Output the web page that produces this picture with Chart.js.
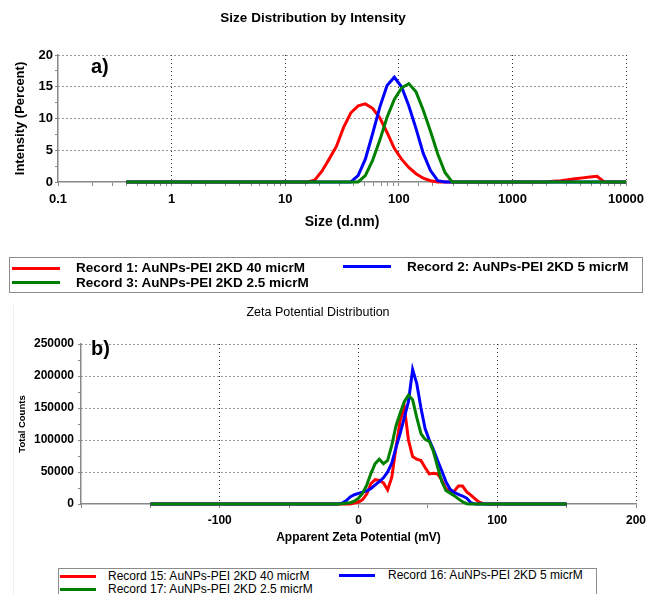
<!DOCTYPE html>
<html>
<head>
<meta charset="utf-8">
<script src="https://cdn.jsdelivr.net/npm/chart.js@4.4.0/dist/chart.umd.min.js"></script>
<style>
body{margin:0;background:#fff;font-family:'Liberation Sans',Arial,sans-serif;color:#000;}
#page{position:relative;width:647px;height:594px;overflow:hidden;background:#fff;}
canvas{position:absolute;left:0;}
.tag{position:absolute;font-weight:bold;font-size:20px;line-height:24px;}
.box{position:absolute;border:1px solid #8c8c8c;box-sizing:border-box;}
.txt{position:absolute;white-space:nowrap;}
.sw{position:absolute;height:3px;}
</style>
</head>
<body>
<div id="page">
  <div style="position:absolute;left:13px;top:305px;width:1px;height:289px;background:#eee"></div>
  <canvas id="sizeChart" width="665" height="240" style="top:0"></canvas>
  <canvas id="zetaChart" width="663" height="258" style="top:296px"></canvas>
  <div class="tag" style="left:91px;top:54px">a)</div>
  <div class="tag" style="left:91px;top:336px">b)</div>

  <div class="box" style="left:9px;top:257px;width:634px;height:36px"></div>
  <div class="sw" style="left:12px;top:267px;width:48px;background:#ff0000"></div>
  <div class="txt" id="lg1" style="left:76px;top:260px;font:bold 13.5px 'Liberation Sans',Arial,sans-serif"></div>
  <div class="sw" style="left:343px;top:265px;width:48px;background:#0000ff"></div>
  <div class="txt" id="lg2" style="left:407px;top:259px;font:bold 13.5px 'Liberation Sans',Arial,sans-serif"></div>
  <div class="sw" style="left:12px;top:281px;width:48px;background:#008000"></div>
  <div class="txt" id="lg3" style="left:76px;top:275px;font:bold 13.5px 'Liberation Sans',Arial,sans-serif"></div>

  <div class="box" style="left:58px;top:568px;width:539px;height:40px"></div>
  <div class="sw" style="left:60px;top:575px;width:36px;background:#ff0000"></div>
  <div class="txt" id="lg4" style="left:108px;top:569px;font:12px 'Liberation Sans',Arial,sans-serif"></div>
  <div class="sw" style="left:339px;top:574px;width:36px;background:#0000ff"></div>
  <div class="txt" id="lg5" style="left:388px;top:568px;font:12px 'Liberation Sans',Arial,sans-serif"></div>
  <div class="sw" style="left:60px;top:588px;width:36px;background:#008000"></div>
  <div class="txt" id="lg6" style="left:108px;top:582px;font:12px 'Liberation Sans',Arial,sans-serif"></div>
</div>
<script>
// a) size distribution, Malvern size classes (d.nm)
var sizeBins = [0.4, 0.4632, 0.5365, 0.6213, 0.7195, 0.8332, 0.9649, 1.117, 1.294, 1.499,
  1.736, 2.010, 2.328, 2.696, 3.122, 3.615, 4.187, 4.849, 5.615, 6.503,
  7.531, 8.721, 10.10, 11.70, 13.54, 15.69, 18.17, 21.04, 24.36, 28.21,
  32.67, 37.84, 43.82, 50.75, 58.77, 68.06, 78.82, 91.28, 105.7, 122.4,
  141.8, 164.2, 190.1, 220.2, 255.0, 295.3, 342.0, 396.1, 458.7, 531.2,
  615.1, 712.4, 825.0, 955.4, 1106, 1281, 1484, 1718, 1990, 2305,
  2669, 3091, 3580, 4145, 4801, 5560, 6439, 7456, 8635, 10000];
var intensity40 = [0, 0, 0, 0, 0, 0, 0, 0, 0, 0,
  0, 0, 0, 0, 0, 0, 0, 0, 0, 0,
  0, 0, 0, 0, 0, 0, 0.3, 1.7, 3.6, 5.6,
  8.6, 10.9, 12.0, 12.3, 11.6, 10.1, 7.8, 5.3, 3.6, 2.3,
  1.3, 0.6, 0.2, 0, 0, 0, 0, 0, 0, 0,
  0, 0, 0, 0, 0, 0, 0, 0, 0, 0.1,
  0.2, 0.35, 0.5, 0.65, 0.8, 0.9, 0, 0, 0, 0];
var intensity5 = [0, 0, 0, 0, 0, 0, 0, 0, 0, 0,
  0, 0, 0, 0, 0, 0, 0, 0, 0, 0,
  0, 0, 0, 0, 0, 0, 0, 0, 0, 0,
  0, 0, 1.0, 3.6, 7.6, 11.8, 15.2, 16.5, 15.0, 12.0,
  8.4, 4.5, 1.8, 0.2, 0, 0, 0, 0, 0, 0,
  0, 0, 0, 0, 0, 0, 0, 0, 0, 0,
  0, 0, 0, 0, 0, 0, 0, 0, 0, 0];
var intensity25 = [0, 0, 0, 0, 0, 0, 0, 0, 0, 0,
  0, 0, 0, 0, 0, 0, 0, 0, 0, 0,
  0, 0, 0, 0, 0, 0, 0, 0, 0, 0,
  0, 0, 0, 1.0, 3.4, 6.6, 10.2, 13.0, 14.8, 15.5,
  14.2, 11.3, 8.0, 4.4, 1.5, 0, 0, 0, 0, 0,
  0, 0, 0, 0, 0, 0, 0, 0, 0, 0,
  0, 0, 0, 0, 0, 0, 0, 0, 0, 0];
var sizeTickLabels = [0.1, 1, 10, 100, 1000, 10000];
var intensityTickLabels = [0, 5, 10, 15, 20];

// b) zeta potential
var zetaMv = [-150, -15, -12, -9, -6, -3, 0, 3, 6, 9, 12, 15, 18, 21, 24, 27, 30, 33, 36, 39,
  42, 45, 48, 51, 54, 57, 60, 63, 66, 69, 72, 75, 78, 81, 84, 87, 90, 93, 150];
var counts40 = [0, 0, 0, 0, 0, 1500, 3000, 7000, 16000, 32000, 38000, 37000, 33000, 22000, 42000, 88000, 130000, 152000, 100000, 74000,
  70000, 68000, 57000, 47000, 48000, 47000, 37500, 24000, 19000, 20000, 28000, 28000, 19000, 14000, 8000, 3000, 500, 0, 0];
var counts5 = [0, 0, 1000, 5000, 11000, 14500, 16500, 18500, 20500, 24000, 30000, 35000, 41000, 50000, 64000, 88000, 110000, 135000, 160000, 210000,
  188000, 150000, 118000, 100000, 85000, 68000, 52000, 35000, 23000, 18000, 15000, 12500, 9000, 2000, 0, 0, 0, 0, 0];
var counts25 = [0, 0, 500, 1200, 2000, 4500, 9000, 17000, 30000, 48000, 63000, 70000, 63000, 68000, 92000, 122000, 142000, 160000, 170000, 163000,
  135000, 110000, 101000, 98000, 82000, 58000, 35000, 21000, 17000, 13000, 8000, 3500, 500, 0, 0, 0, 0, 0, 0];
var zetaTickLabels = [-100, 0, 100, 200];
var countTickLabels = [0, 50000, 100000, 150000, 200000, 250000];

var sizeNames = ['Record 1: AuNPs-PEI 2KD 40 micrM', 'Record 2: AuNPs-PEI 2KD 5 micrM', 'Record 3: AuNPs-PEI 2KD 2.5 micrM'];
var zetaNames = ['Record 15: AuNPs-PEI 2KD 40 micrM', 'Record 16: AuNPs-PEI 2KD 5 micrM', 'Record 17: AuNPs-PEI 2KD 2.5 micrM'];
var colors = ['#ff0000', '#0000ff', '#008000'];

Chart.defaults.font.family = "'Liberation Sans', Arial, sans-serif";
Chart.defaults.color = '#000';

function points(xs, ys){
    return xs.map(function(x, i){ return {x: x, y: ys[i]}; });
}

function isMajor(list, v){
    for (var i = 0; i < list.length; i++) {
        if (Math.abs(list[i] - v) <= Math.abs(list[i]) * 1e-9) return true;
    }
    return false;
}

function datasets(xs, series, names){
    return series.map(function(ys, i){
        return {
            label: names[i],
            data: points(xs, ys),
            borderColor: colors[i],
            borderWidth: 3,
            pointRadius: 0,
            tension: 0,
            clip: 4,
            order: 3 - i
        };
    });
}

function axis(o){
    return {
        type: o.type,
        min: o.min,
        max: o.max,
        afterFit: o.fit,
        ticks: {
            stepSize: o.step,
            autoSkip: false,
            maxRotation: 0,
            padding: o.pad,
            font: {size: o.fontSize, weight: 'bold'},
            callback: function(v){ return isMajor(o.labels, v) && v !== o.hide ? String(v) : ''; }
        },
        grid: {
            color: function(ctx){ return ctx.tick && isMajor(o.labels, ctx.tick.value) && ctx.tick.value !== o.min ? '#333' : 'rgba(0,0,0,0)'; },
            tickColor: '#888',
            tickLength: o.tickLen,
            lineWidth: 1
        },
        border: {color: '#888', width: 1.5, dash: [1, 3]},
        title: {display: true, text: o.title, font: {size: o.titleSize, weight: 'bold'}, padding: o.titlePad}
    };
}

// canvases are a bit wider than the page so the centred titles land where the reference has them
new Chart(document.getElementById('sizeChart'), {
    type: 'line',
    data: {datasets: datasets(sizeBins, [intensity40, intensity5, intensity25], sizeNames)},
    options: {
        responsive: false, animation: false, devicePixelRatio: 1,
        layout: {padding: {left: 0, right: 39, top: 0, bottom: 0}},
        plugins: {
            legend: {display: false}, tooltip: {enabled: false},
            title: {display: true, text: 'Size Distribution by Intensity', font: {size: 13.5, weight: 'bold'}, padding: {top: 10, bottom: 28.8}}
        },
        scales: {
            x: axis({type: 'logarithmic', min: 0.1, max: 10000, labels: sizeTickLabels, pad: 6, fontSize: 13, tickLen: 4,
                fit: function(s){ s.height = 58; }, title: 'Size (d.nm)', titleSize: 14, titlePad: {top: 0, bottom: 9.6}}),
            y: axis({type: 'linear', min: 0, max: 20, step: 2.5, labels: intensityTickLabels, pad: 2, fontSize: 13, tickLen: 3,
                fit: function(s){ s.width = 58; }, title: 'Intensity (Percent)', titleSize: 13, titlePad: {top: 13, bottom: 0}})
        }
    }
});

new Chart(document.getElementById('zetaChart'), {
    type: 'line',
    data: {datasets: datasets(zetaMv, [counts40, counts5, counts25], zetaNames)},
    options: {
        responsive: false, animation: false, devicePixelRatio: 1,
        layout: {padding: {left: 0, right: 27, top: 0, bottom: 0}},
        plugins: {
            legend: {display: false}, tooltip: {enabled: false},
            title: {display: true, text: 'Zeta Potential Distribution', font: {size: 12.5, weight: 'normal'}, padding: {top: 9, bottom: 24}}
        },
        scales: {
            x: axis({type: 'linear', min: -200, max: 200, step: 50, labels: zetaTickLabels, pad: 5.8, fontSize: 12, tickLen: 4,
                fit: function(s){ s.height = 50; }, title: 'Apparent Zeta Potential (mV)', titleSize: 12, titlePad: {top: 0, bottom: 8.8}}),
            y: axis({type: 'linear', min: 0, max: 250000, step: 25000, labels: countTickLabels, pad: 4, fontSize: 12, tickLen: 3,
                fit: function(s){ s.width = 81; }, title: 'Total Counts', titleSize: 9.5, titlePad: {top: 16.3, bottom: 0}})
        }
    }
});

var legendIds = ['lg1', 'lg2', 'lg3', 'lg4', 'lg5', 'lg6'];
sizeNames.concat(zetaNames).forEach(function(name, i){
    document.getElementById(legendIds[i]).textContent = name;
});
</script>
</body>
</html>
